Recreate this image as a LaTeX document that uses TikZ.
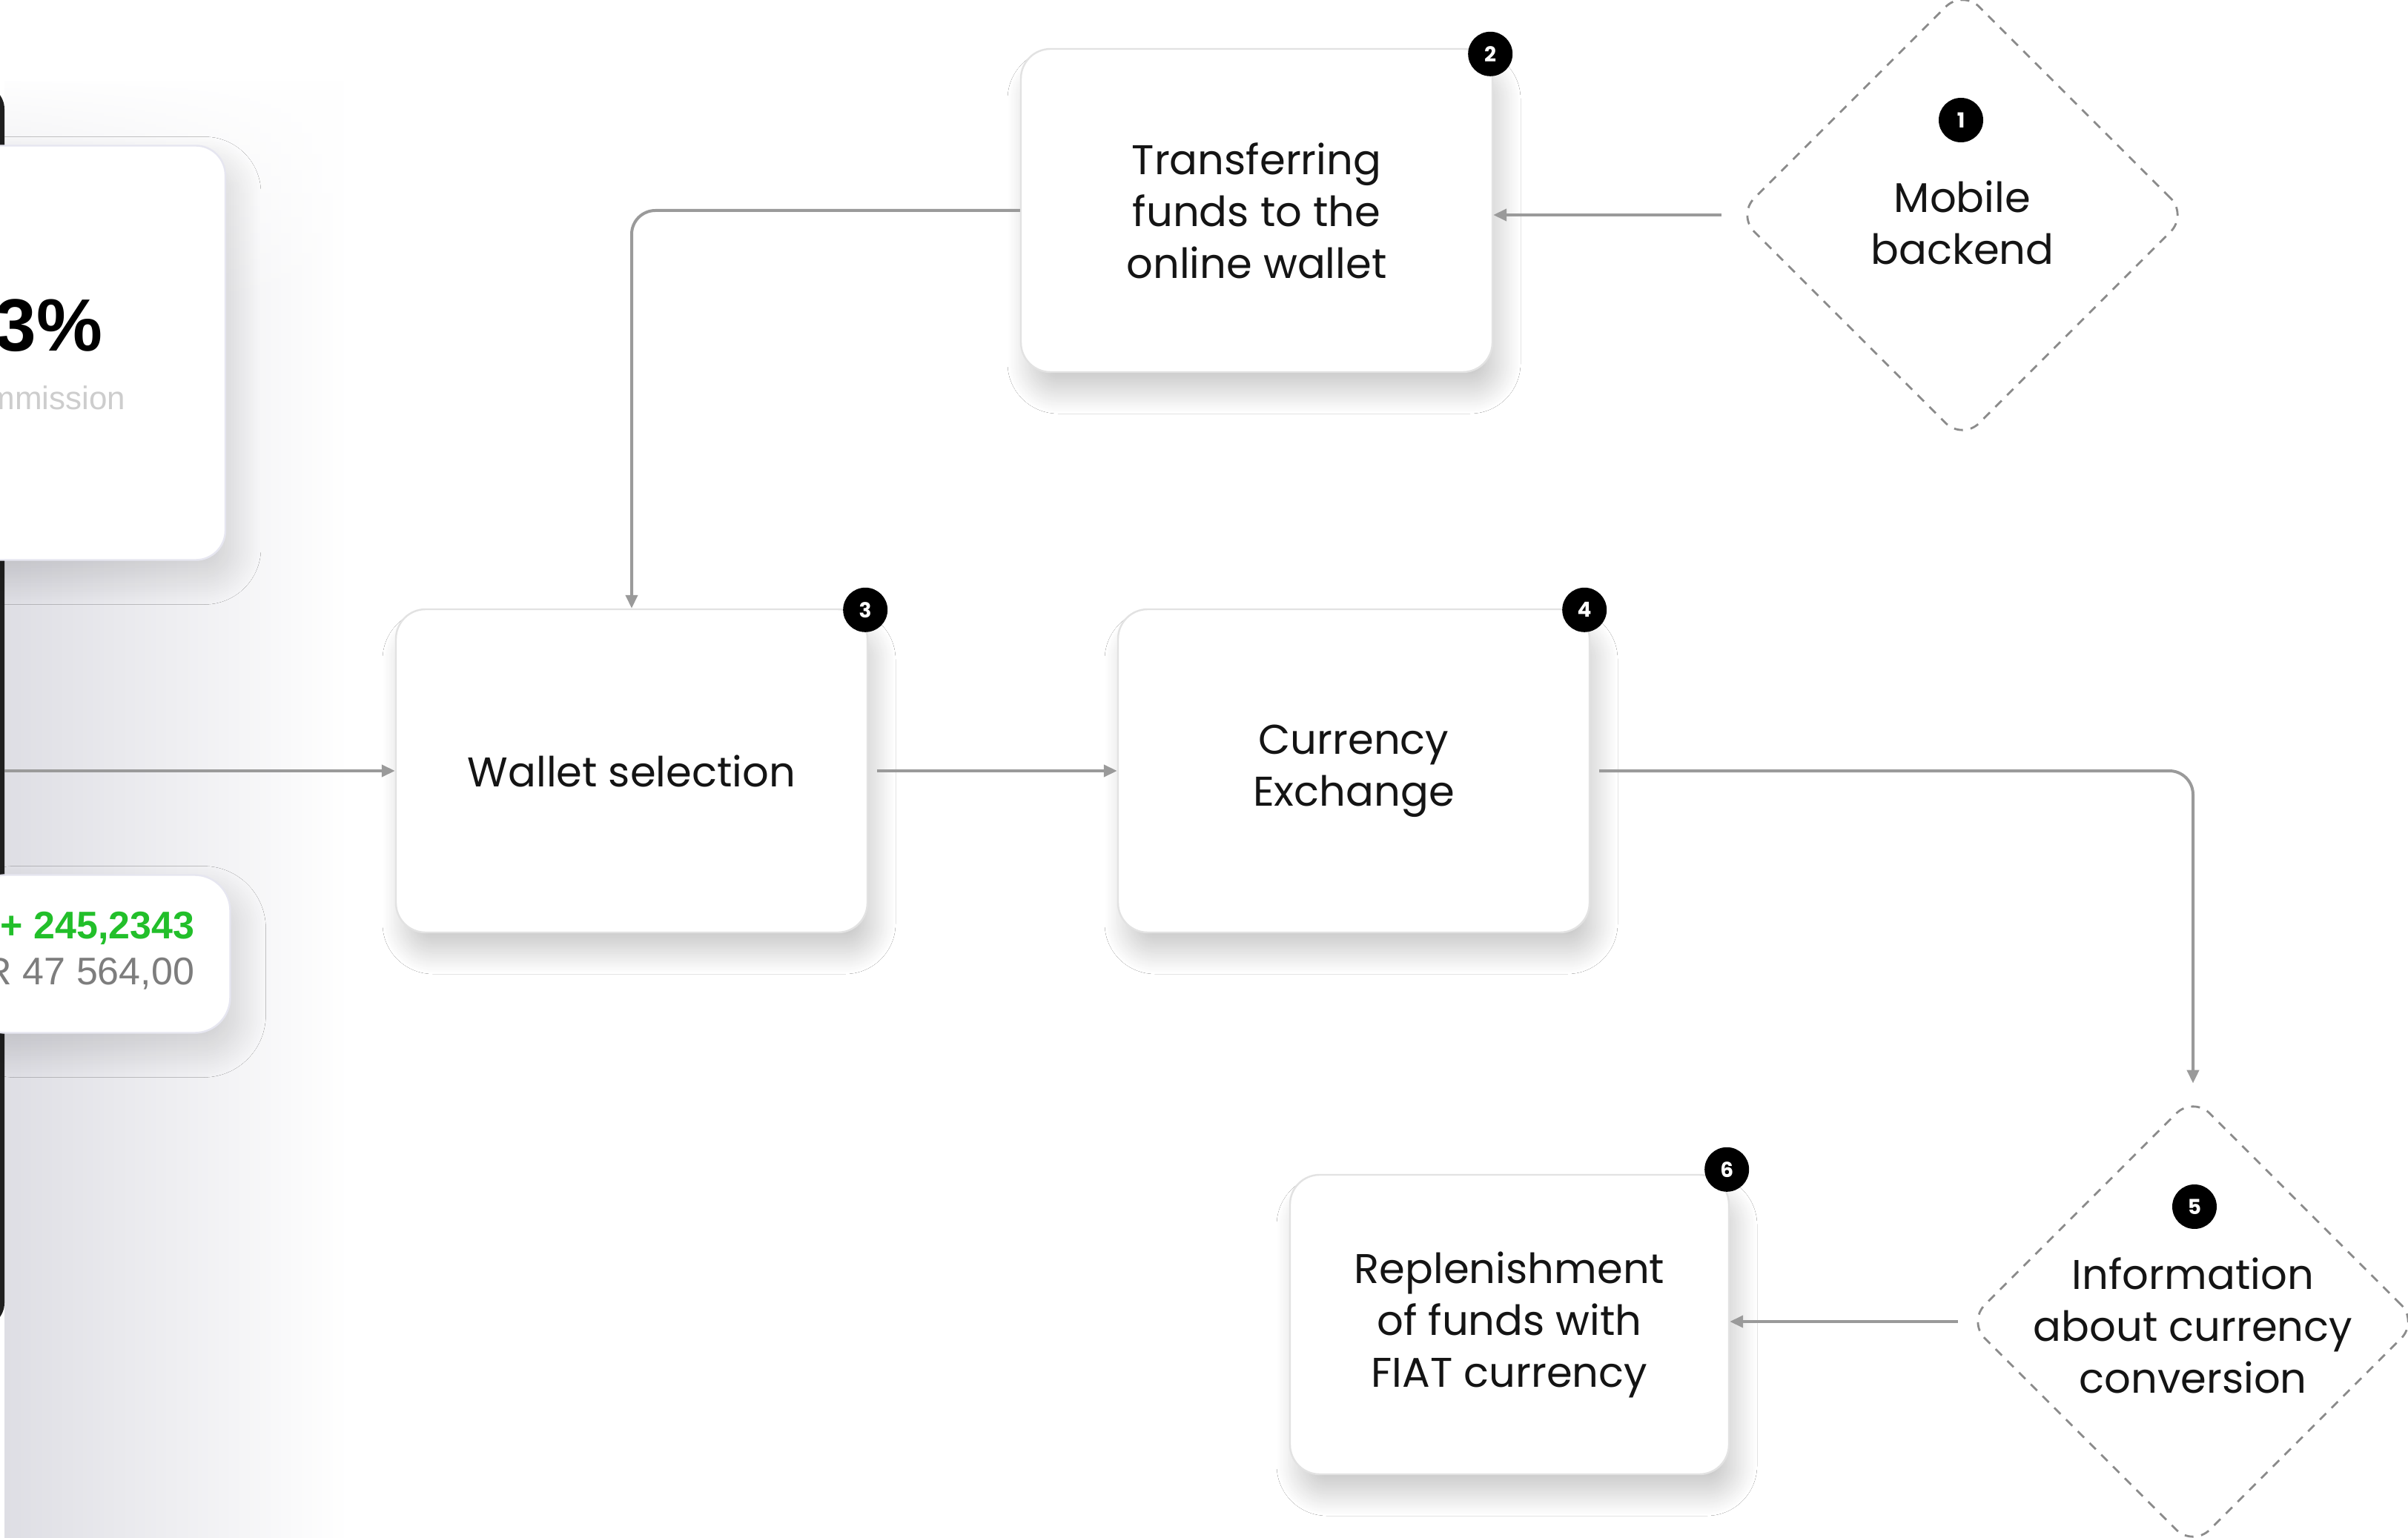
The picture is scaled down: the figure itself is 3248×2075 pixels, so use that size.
\documentclass[tikz,border=0pt]{standalone}
\usepackage{fontspec}
\setmainfont{Poppins}
\newfontfamily\cardfont{Liberation Sans}
\usetikzlibrary{arrows.meta,shapes.geometric,shadows.blur,fadings}

\definecolor{conncol}{HTML}{9A9A9A}
\definecolor{boxline}{HTML}{E2E2E2}
\definecolor{dashcol}{HTML}{8C8C8C}
\definecolor{greentxt}{HTML}{22BF2A}
\definecolor{graytxt}{HTML}{7D7D7D}
\definecolor{lighttxt}{HTML}{CDCDCD}
\definecolor{cardline}{HTML}{E6E6F0}
\definecolor{inktxt}{HTML}{141414}
\definecolor{phoneshade}{HTML}{DEDEE4}

\begin{document}
\begin{tikzpicture}[x=0.25pt,y=-0.25pt,
  stepbox/.style={draw=boxline, line width=0.6pt, fill=white, rounded corners=10pt,
    minimum width=159pt, minimum height=109pt, inner sep=0pt,
    blur shadow={shadow xshift=2.5pt, shadow yshift=-7pt, shadow blur radius=7pt,
      shadow blur steps=30, shadow opacity=20}},
  boxtext/.style={align=center, font=\fontsize{14}{17.5}\selectfont, text=inktxt, inner sep=0pt},
  decision/.style={diamond, aspect=1, draw=dashcol, line width=0.7pt, dash pattern=on 3pt off 2.6pt,
    rounded corners=8pt, fill=white, minimum width=152pt, minimum height=152pt, inner sep=0pt},
  badge/.style={circle, fill=black, text=white, minimum size=15pt, inner sep=0pt,
    font=\bfseries\fontsize{7}{7}\selectfont},
  conn/.style={draw=conncol, line width=1pt, rounded corners=8pt,
    -{Triangle[length=4.5pt,width=4pt]}},
  card/.style={draw=cardline, line width=0.6pt, fill=white, inner sep=0pt,
    blur shadow={shadow xshift=3pt, shadow yshift=-6pt, shadow blur radius=9pt,
      shadow blur steps=30, shadow opacity=14}}
]
\useasboundingbox (0,0) rectangle (3248,2075);
\clip (0,0) rectangle (3248,2075);
\fill[white] (0,0) rectangle (3248,2075);

% soft shadow beside the phone
\shade[left color=phoneshade, right color=white] (6,110) rectangle (470,2075);
\fill[white, path fading=south] (6,100) rectangle (480,420);
% phone edge
\fill[black!88, rounded corners=8pt] (-600,115) rectangle (6,1790);
\coordinate (phone) at (6,1040);

% cards on the phone
\node[card, rounded corners=10pt, minimum width=86pt, minimum height=139.75pt] (c1) at (132,476) {};
\node[anchor=base east, inner sep=0pt, font=\cardfont\bfseries\fontsize{25}{25}\selectfont, text=black] (pct) at (139,474) {3\%};
\node[anchor=base east, inner sep=0pt, font=\cardfont\fontsize{11}{11}\selectfont, text=lighttxt] (com) at (170,553) {Commission};

\node[card, rounded corners=12pt, minimum width=87.75pt, minimum height=53.25pt] (c2) at (135,1287) {};
\node[anchor=base east, inner sep=0pt, font=\cardfont\bfseries\fontsize{13}{13}\selectfont, text=greentxt] (amt) at (263,1266) {+ 245,2343};
\node[anchor=base east, inner sep=0pt, font=\cardfont\fontsize{13}{13}\selectfont, text=graytxt] (eur) at (263,1328) {EUR 47 564,00};

% process boxes
\node[stepbox] (b2) at (1695,284) {};
\node[boxtext] at (b2) {Transferring\\funds to the\\online wallet};
\node[stepbox] (b3) at (852,1040) {};
\node[boxtext] at (b3) {Wallet selection};
\node[stepbox] (b4) at (1826,1040) {};
\node[boxtext] at (b4) {Currency\\Exchange};
\node[stepbox, minimum width=148pt, minimum height=101pt] (b6) at (2036,1787) {};
\node[boxtext] at (b6) {Replenishment\\of funds with\\FIAT currency};

% decisions
\node[decision] (d1) at (2647,290) {};
\node[boxtext] at (2647,300) {Mobile\\backend};
\node[decision] (d5) at (2958,1783) {};
\node[boxtext] at (2958,1788) {Information\\about currency\\conversion};

% badges
\node[badge] at (2645,162) {1};
\node[badge, xshift=-1pt, yshift=-2pt] at (b2.north east) {2};
\node[badge, xshift=-1pt, yshift=-0.5pt] at (b3.north east) {3};
\node[badge, xshift=-2pt, yshift=-0.5pt] at (b4.north east) {4};
\node[badge] at (2960,1628) {5};
\node[badge, xshift=-1pt, yshift=1.5pt] at (b6.north east) {6};

% connectors
\draw[conn] ([xshift=-5pt]d1.west) -- (b2.east |- d1.west);
\draw[conn] (b2.west) -| (b3.north);
\draw[conn] (phone) -- (b3.west);
\draw[conn, shorten <=3pt] (b3.east) -- (b4.west);
\draw[conn, shorten <=3pt, shorten >=4pt] (b4.east) -| (d5.north);
\draw[conn] ([xshift=-3pt]d5.west) -- (b6.east |- d5.west);
\end{tikzpicture}
\end{document}
